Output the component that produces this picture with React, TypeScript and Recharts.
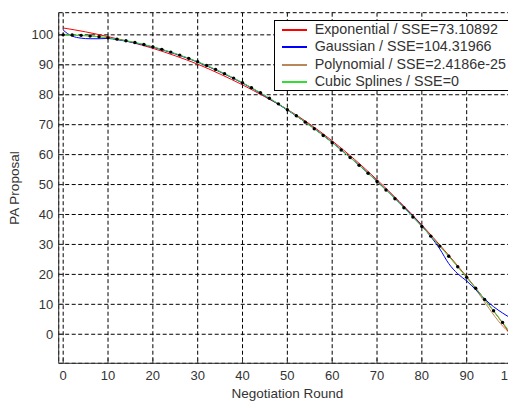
import React from 'react';
import { LineChart, Line, XAxis, YAxis, CartesianGrid } from 'recharts';

// Observed data (PA proposal per negotiation round)
const rounds = [0, 2, 4, 6, 8, 10, 12, 14, 16, 18, 20, 22, 24, 26, 28, 30, 32, 34, 36, 38, 40, 42, 44, 46, 48, 50, 52, 54, 56, 58, 60, 62, 64, 66, 68, 70, 72, 74, 76, 78, 80, 82, 84, 86, 88, 90, 92, 94, 96, 98, 100];
const proposal = [100, 99.96, 99.84, 99.64, 99.36, 99, 98.56, 98.04, 97.44, 96.76, 96, 95.16, 94.24, 93.24, 92.16, 91, 89.76, 88.44, 87.04, 85.56, 84, 82.36, 80.64, 78.84, 76.96, 75, 72.96, 70.84, 68.64, 66.36, 64, 61.56, 59.04, 56.44, 53.76, 51, 48.16, 45.24, 42.24, 39.16, 36, 32.76, 29.44, 26.04, 22.56, 19, 15.36, 11.64, 7.84, 3.96, 0];

// Exponential fit
const expRounds = [0, 5, 10, 15, 20, 25, 30, 35, 40, 45, 50, 55, 60, 65, 70, 75, 80, 85, 90, 95, 100, 101];
const expValues = [102.3, 101.0, 99.4, 97.6, 95.5, 93.0, 90.2, 86.9, 83.3, 79.3, 75.1, 70.2, 64.6, 58.4, 51.6, 44.3, 36.5, 28.1, 19.2, 9.7, -0.8, -3.4];

// Gaussian fit
const gaussRounds = [0, 1, 2, 4, 6, 8, 10, 12, 14, 16, 20, 25, 30, 35, 40, 45, 50, 55, 60, 65, 70, 75, 80, 82, 84, 86, 88, 90, 92, 94, 96, 98, 100, 101];
const gaussValues = [101.6, 100.4, 99.6, 98.9, 98.7, 98.7, 98.8, 98.4, 97.9, 97.3, 95.9, 93.6, 90.9, 87.6, 83.9, 79.6, 74.9, 69.8, 64.1, 57.8, 51.1, 43.9, 36.2, 32.6, 28.5, 23.6, 20.2, 17.8, 14.9, 11.8, 9.2, 7.1, 5.3, 4.6];

// Polynomial fit
const polyRounds = [0, 10, 20, 30, 40, 50, 60, 70, 80, 90, 100, 101];
const polyValues = [100, 99, 96, 91, 84, 75, 64, 51, 36, 19, 0, -1];

// Cubic spline (through the data)
const splineRounds = rounds;
const splineValues = proposal;

const xTicks = [0, 10, 20, 30, 40, 50, 60, 70, 80, 90, 100];
const yTicks = [0, 10, 20, 30, 40, 50, 60, 70, 80, 90, 100];

const legendNames = [
  'Exponential / SSE=73.10892',
  'Gaussian / SSE=104.31966',
  'Polynomial / SSE=2.4186e-25',
  'Cubic Splines / SSE=0',
];
const legendColors = ['#ff0000', '#0000ff', '#b8885a', '#33dd33'];

const toRows = (xs: number[], ys: number[]) => xs.map((x, i) => ({ x, y: ys[i] }));

const FONT = '"Liberation Sans", Arial, sans-serif';
const tickStyle = { fontSize: 13, fill: '#333', fontFamily: FONT };

const XLabel = (props: any) => {
  const vb = props.viewBox || {};
  return (
    <text x={vb.x + vb.width / 2} y={vb.y + 34.7} textAnchor="middle" fontSize={13.5} fill="#333" fontFamily={FONT}>
      Negotiation Round
    </text>
  );
};

const YLabel = (props: any) => {
  const vb = props.viewBox || {};
  const cx = 10.8;
  const cy = vb.y + vb.height / 2;
  return (
    <text x={cx} y={cy} transform={`rotate(-90, ${cx}, ${cy})`} textAnchor="middle" fontSize={13.5} fill="#333" fontFamily={FONT}>
      PA Proposal
    </text>
  );
};

export default function App() {
  return (
    <div style={{ position: 'relative', width: 508, height: 393 }}>
      <LineChart width={508} height={393} margin={{ top: 4.7, right: 0, left: 0, bottom: 0 }}>
        <CartesianGrid stroke="#000" strokeDasharray="4 2.5" strokeWidth={1} />
        <XAxis
          dataKey="x"
          type="number"
          domain={[-1, 101]}
          allowDataOverflow
          ticks={xTicks}
          interval={0}
          height={37.7}
          tickSize={-5}
          tickMargin={12.2}
          tick={tickStyle}
          axisLine={{ stroke: '#333' }}
          tickLine={{ stroke: '#333' }}
          label={{ content: XLabel }}
        />
        <XAxis
          xAxisId="top"
          orientation="top"
          dataKey="x"
          type="number"
          domain={[-1, 101]}
          allowDataOverflow
          ticks={xTicks}
          interval={0}
          height={0}
          tickSize={-5}
          tickFormatter={() => ''}
          axisLine={{ stroke: '#333' }}
          tickLine={{ stroke: '#333' }}
        />
        <YAxis
          type="number"
          domain={[-9.7, 107.4]}
          allowDataOverflow
          ticks={yTicks}
          interval={0}
          width={50.7}
          tickSize={-5}
          tickMargin={10.4}
          tick={tickStyle}
          axisLine={{ stroke: '#333' }}
          tickLine={{ stroke: '#333' }}
          label={{ content: YLabel }}
        />
        <Line
          data={toRows(rounds, proposal)}
          dataKey="y"
          stroke="none"
          dot={{ r: 1.7, fill: '#000', stroke: 'none' }}
          isAnimationActive={false}
        />
        <Line data={toRows(polyRounds, polyValues)} dataKey="y" type="monotone" stroke={legendColors[2]} strokeWidth={1} dot={false} isAnimationActive={false} />
        <Line data={toRows(expRounds, expValues)} dataKey="y" type="monotone" stroke={legendColors[0]} strokeWidth={1} dot={false} isAnimationActive={false} />
        <Line data={toRows(gaussRounds, gaussValues)} dataKey="y" type="monotone" stroke={legendColors[1]} strokeWidth={1} dot={false} isAnimationActive={false} />
        <Line data={toRows(splineRounds, splineValues)} dataKey="y" type="monotone" stroke={legendColors[3]} strokeWidth={1} dot={false} isAnimationActive={false} />
      </LineChart>
      <div
        style={{
          position: 'absolute',
          left: 266,
          top: 12,
          width: 239,
          height: 71,
          boxSizing: 'border-box',
          border: '1px solid #000',
          background: '#fff',
          fontFamily: FONT,
          fontSize: 14.3,
          color: '#333',
        }}
      >
        {legendNames.map((name, i) => (
          <div key={name} style={{ position: 'absolute', left: 0, top: Math.round(i * 17.3), height: 17, width: '100%' }}>
            <div style={{ position: 'absolute', left: 7, top: 8, width: 25, height: 2, background: legendColors[i] }} />
            <div style={{ position: 'absolute', left: 39.7, top: 0, lineHeight: '17px', whiteSpace: 'nowrap' }}>{name}</div>
          </div>
        ))}
      </div>
    </div>
  );
}
